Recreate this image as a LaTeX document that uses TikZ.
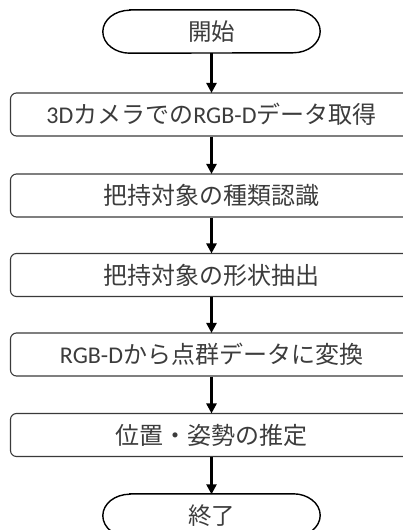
\documentclass[tikz,border=0pt]{standalone}
\usepackage{fontspec}
\setmainfont{Noto Sans CJK JP}
\newfontfamily\lat{Carlito}
\usetikzlibrary{arrows.meta}
\definecolor{txt}{HTML}{3C3C3C}
\definecolor{edge}{HTML}{3A3A3A}
\tikzset{
  x=1pt,y=1pt,
  stepbox/.style={draw=edge, line width=1.1pt, rounded corners=6pt, minimum width=402pt,
    minimum height=43pt, inner sep=0pt, text=txt, font=\fontsize{24pt}{28pt}\selectfont},
  term/.style={minimum width=217pt, minimum height=43pt, inner sep=0pt, text=txt,
    font=\fontsize{23.5pt}{28pt}\selectfont},
  termline/.style={draw=black, line width=1.4pt},
  flow/.style={draw=black, line width=2.4pt, -{Triangle[length=10pt,width=10pt]}, shorten >=-0.5pt},
}
\begin{document}
\begin{tikzpicture}
\useasboundingbox (0,0) rectangle (403,-530);
\node[term] (start) at (211.5,-31.5) {開始};
\draw[termline] ([xshift=27pt]start.north west) -- ([xshift=-27pt]start.north east)
  arc[start angle=90,end angle=-90,x radius=27pt,y radius=21.5pt]
  -- ([xshift=27pt]start.south west)
  arc[start angle=270,end angle=90,x radius=27pt,y radius=21.5pt] -- cycle;
\node[stepbox] (s1) at (211.5,-114.5) {{\lat 3D}カメラでの{\lat RGB-D}データ取得};
\node[stepbox] (s2) at (211.5,-195.5) {把持対象の種類認識};
\node[stepbox] (s3) at (211.5,-275) {把持対象の形状抽出};
\node[stepbox] (s4) at (211.5,-354.5) {{\lat RGB-D}から点群データに変換};
\node[stepbox] (s5) at (211.5,-435) {位置・姿勢の推定};
\node[term] (end) at (211.5,-515.5) {終了};
\draw[termline] ([xshift=27pt]end.north west) -- ([xshift=-27pt]end.north east)
  arc[start angle=90,end angle=-90,x radius=27pt,y radius=21.5pt]
  -- ([xshift=27pt]end.south west)
  arc[start angle=270,end angle=90,x radius=27pt,y radius=21.5pt] -- cycle;
\draw[flow] (start.south) -- (s1.north);
\draw[flow] (s1.south) -- (s2.north);
\draw[flow] (s2.south) -- (s3.north);
\draw[flow] (s3.south) -- (s4.north);
\draw[flow] (s4.south) -- (s5.north);
\draw[flow] (s5.south) -- (end.north);
\end{tikzpicture}
\end{document}
